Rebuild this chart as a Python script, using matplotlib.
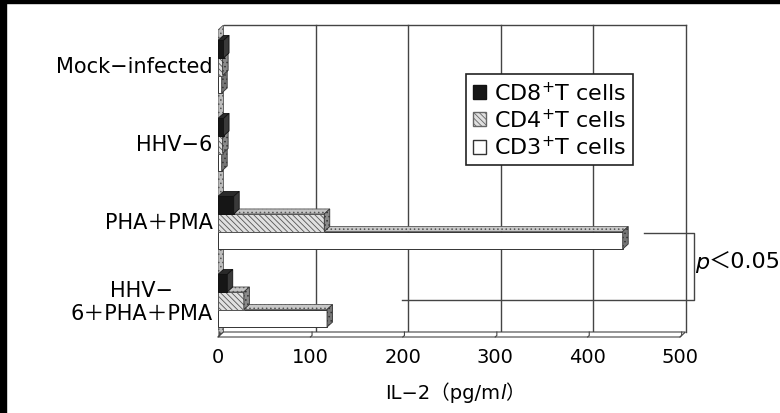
import matplotlib
matplotlib.use("Agg")
import matplotlib.pyplot as plt
from matplotlib.patches import Polygon, Patch, Rectangle
from matplotlib.offsetbox import TextArea, HPacker, AnchoredOffsetbox

plt.rcParams['font.family'] = ['DejaVu Sans', 'Noto Sans CJK JP']
plt.rcParams['mathtext.fontset'] = 'dejavusans'
plt.rcParams['hatch.linewidth'] = 0.6

# ── data ──────────────────────────────────────────────────────────
groups = ["Mock−infected", "HHV−6", "PHA＋PMA", "HHV−\n6＋PHA＋PMA"]
cd8 = [6, 6, 17, 10]
cd4 = [5, 5, 115, 28]
cd3 = [4, 4, 438, 118]
series = ["CD8$^{+}$T cells", "CD4$^{+}$T cells", "CD3$^{+}$T cells"]
xticks = [0, 100, 200, 300, 400, 500]

# ── figure / axes (front plane of the 3d box) ─────────────────────
W, H = 780, 414
fig = plt.figure(figsize=(W / 100, H / 100), dpi=100)
px0, px1, py0, py1 = 218, 680, 26, 338
ax = fig.add_axes([px0 / W, 1 - py1 / H, (px1 - px0) / W, (py1 - py0) / H])
xmax, ny = 500, len(groups)
ax.set_xlim(0, xmax)
ax.set_ylim(ny, 0)
for s in ax.spines.values():
    s.set_visible(False)

# depth of the fake 3d, in data units
dx = 5.5 * xmax / (px1 - px0)
dy = 5.0 * ny / (py1 - py0)

# back wall grid + frame
for v in xticks[1:]:
    ax.plot([v + dx, v + dx], [0, ny - dy], color="#444", lw=1, zorder=1, clip_on=False)
ax.plot([dx, xmax + dx], [0, 0], color="#444", lw=1, zorder=1, clip_on=False)
# left wall
ax.add_patch(Polygon([(0, dy), (dx, 0), (dx, ny - dy), (0, ny)], closed=True,
                     facecolor="#bdbdbd", edgecolor="#555", hatch="....", lw=0.6, zorder=2))
# floor
ax.add_patch(Polygon([(0, ny), (xmax, ny), (xmax + dx, ny - dy), (dx, ny - dy)], closed=True,
                     facecolor="white", edgecolor="#444", lw=0.8, zorder=2, clip_on=False))
for v in xticks:
    ax.plot([v, v + dx * 0.3, v + dx * 0.3], [ny, ny - dy * 0.3, ny - dy], color="#444",
            lw=0.8, zorder=2, clip_on=False)

# ── bars ──────────────────────────────────────────────────────────
h = 0.225
base = 0.035
styles = [
    # front face, top face, side face
    dict(front=dict(facecolor="#161616", edgecolor="#111", hatch=None),
         top=dict(facecolor="#2a2a2a", edgecolor="#111", hatch=None),
         side=dict(facecolor="#3a3a3a", edgecolor="#111", hatch=None)),
    dict(front=dict(facecolor="#e0e0e0", edgecolor="#555", hatch="\\\\\\\\\\\\"),
         top=dict(facecolor="#c4c4c4", edgecolor="#555", hatch="...."),
         side=dict(facecolor="#8a8a8a", edgecolor="#333", hatch="....")),
    dict(front=dict(facecolor="white", edgecolor="#333", hatch=None),
         top=dict(facecolor="#c8c8c8", edgecolor="#555", hatch="...."),
         side=dict(facecolor="#777", edgecolor="#333", hatch="....")),
]
vals = [cd8, cd4, cd3]
offs = [-h, 0, h]

for i in range(ny):
    yc = i + 0.5 + base
    # draw CD3 first so the upper bars cover its top face
    for k in (2, 1, 0):
        v = vals[k][i]
        st = styles[k]
        z = 5 + (2 - k) * 2 + i * 10
        yb = yc + offs[k]
        ax.barh(yb, v, height=h, lw=0.7, zorder=z, **st["front"])
        ytop, ybot = yb - h / 2, yb + h / 2
        ax.add_patch(Polygon([(0, ytop), (v, ytop), (v + dx, ytop - dy), (dx, ytop - dy)],
                             closed=True, lw=0.6, zorder=z + 0.5, **st["top"]))
        ax.add_patch(Polygon([(v, ytop), (v + dx, ytop - dy), (v + dx, ybot - dy), (v, ybot)],
                             closed=True, lw=0.6, zorder=z + 0.5, **st["side"]))

# ── ticks ─────────────────────────────────────────────────────────
ax.set_xticks(xticks)
ax.set_xticklabels([str(t) for t in xticks], fontsize=14)
ax.set_yticks([i + 0.5 for i in range(ny)])
ax.set_yticklabels(groups, fontsize=15)
for t in ax.get_yticklabels():
    t.set_multialignment("center")
ax.tick_params(axis="x", length=0, pad=7)
ax.tick_params(axis="y", length=0, pad=4)

# x label with italic l
lab = HPacker(children=[TextArea("IL−2（pg/m", textprops=dict(size=14)),
                        TextArea("l", textprops=dict(size=14, style="italic")),
                        TextArea("）", textprops=dict(size=14))],
              align="baseline", pad=0, sep=0)
fig.add_artist(AnchoredOffsetbox(loc="center", child=lab, frameon=False, pad=0, borderpad=0,
                                 bbox_to_anchor=(455 / W, 1 - 393 / H),
                                 bbox_transform=fig.transFigure))

# ── legend ────────────────────────────────────────────────────────
handles = [Patch(facecolor="#161616", edgecolor="#111"),
           Patch(facecolor="#e0e0e0", edgecolor="#666", hatch="\\\\\\\\\\\\"),
           Patch(facecolor="white", edgecolor="#333")]
leg = ax.legend(handles, series, loc="upper left", bbox_to_anchor=(466 / W, 1 - 75 / H),
                bbox_transform=fig.transFigure, borderaxespad=0, fontsize=16,
                fancybox=False, framealpha=1, edgecolor="#222", handlelength=0.6,
                handleheight=0.6, handletextpad=0.35, labelspacing=0.18, borderpad=0.3)
leg.get_frame().set_linewidth(1.2)
leg.set_zorder(100)

# ── p-value bracket ───────────────────────────────────────────────
yb1, yb2, xb = 2.667, 3.526, 515
ax.plot([461, xb, xb, 199], [yb1, yb1, yb2, yb2], color="#444", lw=1, zorder=50, clip_on=False)
ptxt = HPacker(children=[TextArea("p", textprops=dict(size=16, style="italic")),
                         TextArea("＜0.05", textprops=dict(size=16))],
               align="baseline", pad=0, sep=0)
fig.add_artist(AnchoredOffsetbox(loc="center left", child=ptxt, frameon=False, pad=0, borderpad=0,
                                 bbox_to_anchor=(695 / W, 1 - 263 / H),
                                 bbox_transform=fig.transFigure))

# scan border
fig.add_artist(Rectangle((0, 0), 6 / W, 1, transform=fig.transFigure, color="black"))
fig.add_artist(Rectangle((0, 1 - 4 / H), 1, 4 / H, transform=fig.transFigure, color="black"))

fig.savefig("out.png", dpi=100)
